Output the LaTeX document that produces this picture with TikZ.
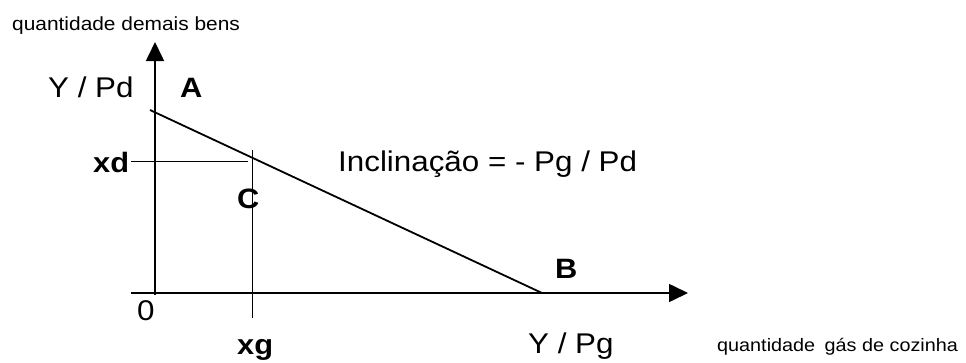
\documentclass[tikz,border=0pt]{standalone}
\usepackage{fontspec}
\setmainfont{Liberation Sans}[FakeStretch=1.1]
\usetikzlibrary{arrows.meta}
\begin{document}
\begin{tikzpicture}[x=1pt,y=-1pt,
  axis/.style={line width=1.6pt,-{Triangle[length=19pt,width=18pt]}},
  thin line/.style={line width=1pt},
  budget/.style={line width=1.8pt},
  lab/.style={anchor=base west,inner sep=0pt,font=\fontsize{28.5}{30}\selectfont},
  blab/.style={anchor=base west,inner sep=0pt,font=\fontsize{28}{30}\selectfont\bfseries},
  small/.style={anchor=base west,inner sep=0pt,font=\fontsize{19}{21}\selectfont},
  smaller/.style={anchor=base west,inner sep=0pt,font=\fontsize{18}{20}\selectfont}]
\useasboundingbox (0,0) rectangle (966,362);
% coordinates
\coordinate (ybot) at (155,295);
\coordinate (ytip) at (155,42);
\coordinate (xleft) at (131,293);
\coordinate (xtip) at (688,293);
\coordinate (Apt) at (150,110);
\coordinate (Bpt) at (542,293);
\coordinate (gtop) at (252,150);
\coordinate (gbot) at (252,318);
\coordinate (dleft) at (131,161);
\coordinate (dright) at (248,161);
% axes
\draw[axis] (ybot) -- (ytip);
\draw[axis] (xleft) -- (xtip);
% budget line
\draw[budget] (Apt) -- (Bpt);
% guide lines
\draw[thin line] (gtop) -- (gbot);
\draw[thin line] (dleft) -- (dright);
% labels
\node[small] (ylab) at (12,30) {quantidade demais bens};
\node[lab] (YPd) at (48,97) {Y / Pd};
\node[blab] (A) at (180,97) {A};
\node[blab] (xd) at (93,172) {xd};
\node[blab] (C) at (237,208) {C};
\node[lab] (incl) at (338,171) {Inclinação = - Pg / Pd};
\node[blab] (B) at (555,278) {B};
\node[lab] (zero) at (137,320) {0};
\node[blab] (xg) at (237,354) {xg};
\node[lab] (YPg) at (528,353) {Y / Pg};
\node[smaller] (xlab) at (717,351) {quantidade\hspace{4pt} gás de cozinha};
\end{tikzpicture}
\end{document}
